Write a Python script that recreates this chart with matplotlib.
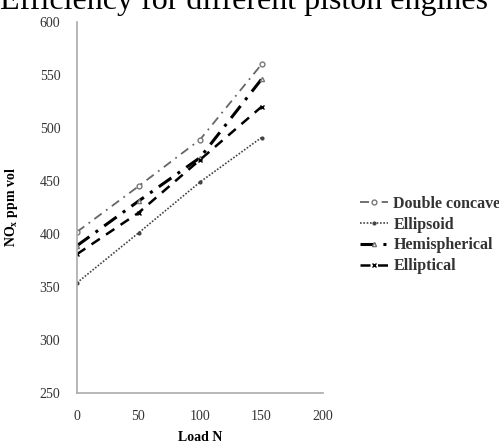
import matplotlib
matplotlib.use("Agg")
import matplotlib.pyplot as plt

load = [0, 50, 100, 150]
double_concave = [402, 445, 489, 560]
ellipsoid = [354, 401, 449, 491]
hemispherical = [389, 431, 472, 546]
elliptical = [381, 420, 470, 520]
series_names = ["Double concave", "Ellipsoid", "Hemispherical", "Elliptical"]
x_ticks = [0, 50, 100, 150, 200]
y_ticks = [250, 300, 350, 400, 450, 500, 550, 600]

plt.rcParams['font.family'] = ['Liberation Serif', 'DejaVu Serif']

fig = plt.figure(figsize=(4.99, 4.48), dpi=100)
ax = fig.add_axes([77/499, 1-393/448, (323-77)/499, (393-22)/448])

ax.plot(load, double_concave, color='#666666', lw=1.3, linestyle=(0, (5, 3, 1, 3)),
        marker='o', markersize=3.5, markerfacecolor='white', markeredgecolor='#777777',
        label=series_names[0])
ax.plot(load, ellipsoid, color='#444444', lw=1.2, linestyle=(0, (1, 1)),
        marker='o', markersize=2, markerfacecolor='#444444', markeredgecolor='#444444',
        label=series_names[1])
ax.plot(load, hemispherical, color='black', lw=2.2, linestyle=(0, (5, 2.5, 1, 2.5)),
        marker='^', markersize=3, markerfacecolor='white', markeredgecolor='#777777',
        label=series_names[2])
ax.plot(load, elliptical, color='black', lw=1.8, linestyle=(0, (4, 3)),
        marker='x', markersize=2.5, markeredgecolor='black',
        label=series_names[3])

ax.set_xlim(0, 200)
ax.set_ylim(250, 600)
ax.set_xticks(x_ticks)
ax.set_yticks(y_ticks)
ax.tick_params(length=0, labelsize=10, colors='#333333', pad=12)
for s in ['top', 'right']:
    ax.spines[s].set_visible(False)
for s in ['left', 'bottom']:
    ax.spines[s].set_color('#aaaaaa')
    ax.spines[s].set_linewidth(1.2)

ax.set_xlabel("Load N", fontsize=10, fontweight='bold', labelpad=6)
ax.set_ylabel(r"NO$_\mathregular{x}$ ppm vol", fontsize=10, fontweight='bold', labelpad=14)

leg = ax.legend(loc='center left', bbox_to_anchor=(1.15, 0.426), frameon=False,
                fontsize=11.5, handlelength=1.75, handletextpad=0.35, labelspacing=0.3,
                borderaxespad=0.0, borderpad=0.0)
for t in leg.get_texts():
    t.set_fontweight('bold')
    t.set_color('#333333')

fig.text(0.0, 448/448 - 9/448, "Efficiency for different piston engines", fontsize=23,
         ha='left', va='baseline', color='black')

fig.savefig("out.png", dpi=100)
